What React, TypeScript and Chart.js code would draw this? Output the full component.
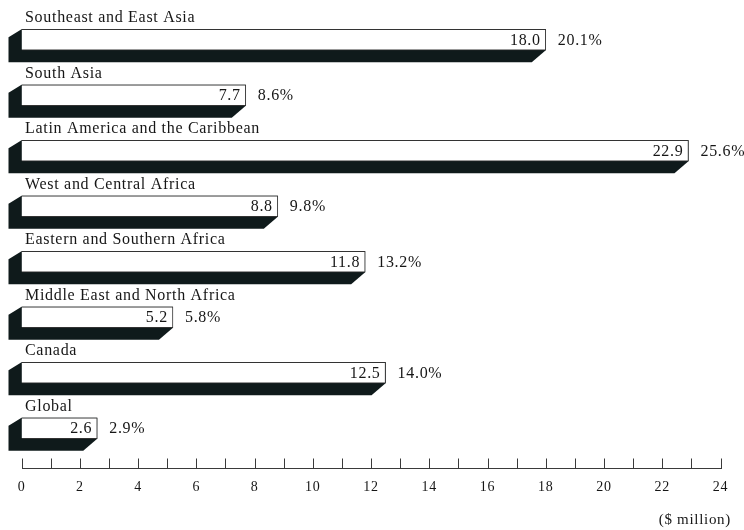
import React, { useEffect, useRef } from 'react';
import { Chart, registerables } from 'chart.js';

Chart.register(...registerables);

const categories = [
  'Southeast and East Asia',
  'South Asia',
  'Latin America and the Caribbean',
  'West and Central Africa',
  'Eastern and Southern Africa',
  'Middle East and North Africa',
  'Canada',
  'Global',
];
const values = [18.0, 7.7, 22.9, 8.8, 11.8, 5.2, 12.5, 2.6];
const percents = ['20.1%', '8.6%', '25.6%', '9.8%', '13.2%', '5.8%', '14.0%', '2.9%'];
const xMin = 0;
const xMax = 24;
const xStep = 1;
const xTickLabels = [0, 2, 4, 6, 8, 10, 12, 14, 16, 18, 20, 22, 24];
const unitLabel = '($ million)';

const FONT = "'Liberation Serif', 'Times New Roman', serif";
const TEXT = '#161616';
const SHADOW = '#0f1a1b';

const bars3d = {
  id: 'bars3d',
  beforeDraw(chart: any) {
    chart.ctx.letterSpacing = '0.7px';
  },
  beforeDatasetsDraw(chart: any) {
    const ctx = chart.ctx;
    const meta = chart.getDatasetMeta(0);
    ctx.save();
    ctx.fillStyle = SHADOW;
    meta.data.forEach((bar: any) => {
      const { x, y, base, height } = bar.getProps(['x', 'y', 'base', 'height'], true);
      const top = y - height / 2;
      const bottom = y + height / 2;
      ctx.beginPath();
      ctx.moveTo(base, top);
      ctx.lineTo(x, top);
      ctx.lineTo(x, bottom);
      ctx.lineTo(x - 14, bottom + 12);
      ctx.lineTo(base - 13, bottom + 12);
      ctx.lineTo(base - 13, top + 8);
      ctx.closePath();
      ctx.fill();
    });
    ctx.restore();
  },
  afterDatasetsDraw(chart: any) {
    const ctx = chart.ctx;
    const meta = chart.getDatasetMeta(0);
    ctx.save();
    ctx.fillStyle = TEXT;
    ctx.font = `16px ${FONT}`;
    meta.data.forEach((bar: any, i: number) => {
      const { x, y, base, height } = bar.getProps(['x', 'y', 'base', 'height'], true);
      const top = y - height / 2;
      ctx.textBaseline = 'alphabetic';
      ctx.textAlign = 'left';
      ctx.fillText(categories[i], base + 3.5, top - 7);
      ctx.textBaseline = 'middle';
      ctx.textAlign = 'right';
      ctx.fillText(values[i].toFixed(1), x - 5, y + 1);
      ctx.textAlign = 'left';
      ctx.fillText(percents[i], x + 12, y + 1);
    });
    ctx.restore();
  },
  afterDraw(chart: any) {
    const ctx = chart.ctx;
    const xs = chart.scales.x;
    const yAxis = chart.chartArea.bottom + 12;
    ctx.save();
    ctx.strokeStyle = '#3a3a3a';
    ctx.lineWidth = 1;
    ctx.beginPath();
    ctx.moveTo(Math.round(xs.getPixelForValue(xMin)), yAxis + 0.5);
    ctx.lineTo(Math.round(xs.getPixelForValue(xMax)) + 1, yAxis + 0.5);
    for (let v = xMin; v <= xMax; v += xStep) {
      const px = Math.round(xs.getPixelForValue(v)) + 0.5;
      ctx.moveTo(px, yAxis + 0.5);
      ctx.lineTo(px, yAxis - 9.5);
    }
    ctx.stroke();
    ctx.fillStyle = TEXT;
    ctx.font = `14px ${FONT}`;
    ctx.textAlign = 'center';
    ctx.textBaseline = 'middle';
    xTickLabels.forEach((v) => {
      ctx.fillText(String(v), xs.getPixelForValue(v), yAxis + 19);
    });
    ctx.font = `15px ${FONT}`;
    ctx.textAlign = 'right';
    ctx.fillText(unitLabel, 731, 520);
    ctx.restore();
  },
};

export default function App() {
  const ref = useRef<HTMLCanvasElement>(null);
  useEffect(() => {
    if (!ref.current) return;
    const chart = new Chart(ref.current, {
      type: 'bar',
      data: {
        labels: categories,
        datasets: [
          {
            data: values,
            backgroundColor: '#ffffff',
            borderColor: '#333333',
            borderWidth: 1,
            barThickness: 21,
          },
        ],
      },
      options: {
        indexAxis: 'y',
        animation: false,
        responsive: false,
        layout: { padding: { left: 21.5, right: 23.5, top: 12, bottom: 74 } },
        plugins: { legend: { display: false }, tooltip: { enabled: false } },
        scales: {
          y: { display: false },
          x: { display: false, min: xMin, max: xMax },
        },
      },
      plugins: [bars3d],
    } as any);
    return () => chart.destroy();
  }, []);
  return (
    <div style={{ position: 'fixed', left: 0, top: 0, width: 744, height: 530, background: '#ffffff' }}>
      <canvas ref={ref} width={744} height={530} style={{ display: 'block' }} />
    </div>
  );
}
